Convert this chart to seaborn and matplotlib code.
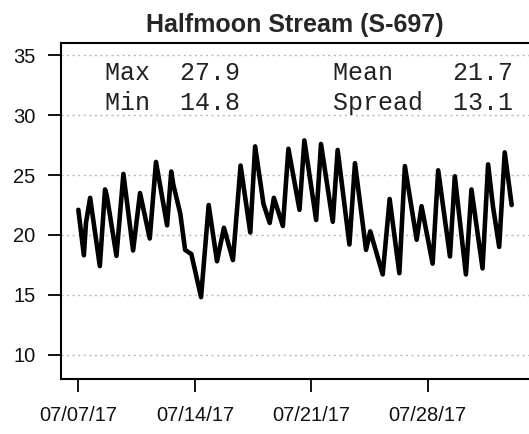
import matplotlib
matplotlib.use("Agg")
import matplotlib.pyplot as plt
import matplotlib.dates as mdates
import numpy as np
import pandas as pd
import seaborn as sns

# Stream temperature record (hours since 2017-07-07 00:00, deg C)
hours = [0, 8, 11, 17, 31, 38.5, 41, 55, 65, 79, 89, 103, 112, 128, 134, 137,
         147, 154, 163, 177, 188, 200, 210, 223, 234, 248, 255, 267, 276, 282,
         295, 303, 319, 326, 343, 350, 367, 374, 391, 399, 415, 421, 439, 449,
         463, 471, 488, 495, 511, 519, 536, 543, 559, 567, 583, 591, 598, 607,
         615, 625]
temps = [22.1, 18.3, 21.0, 23.1, 17.4, 23.8, 23.3, 18.25, 25.1, 18.7, 23.5,
         19.7, 26.1, 20.8, 25.3, 24.2, 21.8, 18.75, 18.4, 14.8, 22.5, 17.8,
         20.6, 17.9, 25.8, 20.2, 27.4, 22.6, 21.0, 23.1, 20.75, 27.2, 22.1,
         27.9, 21.25, 27.6, 21.1, 27.1, 19.2, 26.0, 18.75, 20.3, 16.7, 23.0,
         16.8, 25.75, 19.6, 22.4, 17.6, 25.4, 18.2, 24.9, 16.7, 23.8, 17.2,
         25.9, 22.4, 19.0, 26.9, 22.5]

# Summary figures printed inside the panel
stat_labels_left = ["Max", "Min"]
stat_values_left = [27.9, 14.8]
stat_labels_right = ["Mean", "Spread"]
stat_values_right = [21.7, 13.1]

site_title = "Halfmoon Stream (S-697)"
tick_dates = ["2017-07-07", "2017-07-14", "2017-07-21", "2017-07-28"]
y_ticks = [10, 15, 20, 25, 30, 35]

start = pd.Timestamp("2017-07-07 00:00")
df = pd.DataFrame({
    "time": start + pd.to_timedelta(hours, unit="h"),
    "temp": temps,
})

sns.set_style("white")
plt.rcParams["font.family"] = ["Liberation Sans", "DejaVu Sans"]

fig = plt.figure(figsize=(5.29, 4.34), dpi=100)
ax = fig.add_axes([61 / 529, 55 / 434, 468 / 529, 336 / 434])

# dotted horizontal reference lines
for yv in y_ticks:
    ax.axhline(yv, color="#b8b8b8", lw=1.0, ls=(0, (1.5, 2.5)), zorder=0)

sns.lineplot(data=df, x="time", y="temp", ax=ax, color="black", lw=3.3,
             solid_joinstyle="round", solid_capstyle="round")

span = df["time"].max() - df["time"].min()
pad_t = span * 0.04
ax.set_xlim(df["time"].min() - pad_t, df["time"].max() + pad_t)
ax.set_ylim(9 - 26 * 0.04, 35 + 26 * 0.04)

ax.set_yticks(y_ticks)
ax.set_xticks(pd.to_datetime(tick_dates))
ax.xaxis.set_major_formatter(mdates.DateFormatter("%m/%d/%y"))
ax.set_xlabel("")
ax.set_ylabel("")

ax.tick_params(axis="both", which="major", direction="out", length=9.5,
               width=1.3, color="black", labelsize=14.5, labelcolor="#111111")
ax.tick_params(axis="y", pad=9)
ax.tick_params(axis="x", pad=10)
ax.tick_params(left=True, bottom=True)

for side in ["left", "top", "bottom"]:
    ax.spines[side].set_visible(True)
    ax.spines[side].set_color("black")
    ax.spines[side].set_linewidth(1.5)
ax.spines["right"].set_visible(False)

ax.set_title(site_title, fontsize=18, fontweight="bold", pad=8)

mono = dict(family=["Liberation Mono", "DejaVu Sans Mono"], fontsize=18,
            color="#222222", va="center", ha="left", transform=ax.transAxes)
rows_y = [0.911, 0.821]
for i in range(2):
    ax.text(0.094, rows_y[i],
            f"{stat_labels_left[i]:<5}{stat_values_left[i]:.1f}", **mono)
    ax.text(0.581, rows_y[i],
            f"{stat_labels_right[i]:<8}{stat_values_right[i]:.1f}", **mono)

fig.savefig("out.png", dpi=100)
